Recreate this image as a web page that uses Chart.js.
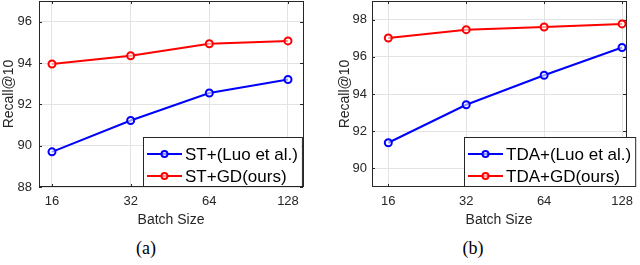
<!DOCTYPE html>
<html>
<head>
<meta charset="utf-8">
<script src="https://cdn.jsdelivr.net/npm/chart.js@4.4.0/dist/chart.umd.min.js"></script>
<style>
  html, body { margin: 0; padding: 0; background: #fff; }
  body { width: 640px; height: 265px; position: relative; overflow: hidden; }
  .box { position: absolute; top: 0; width: 320px; height: 232px; }
  .cap { position: absolute; top: 237px; font-family: "Liberation Serif", "DejaVu Serif", serif; font-size: 18px; color: #000; width: 60px; text-align: center; line-height: 22px; }
</style>
</head>
<body>
<div class="box" style="left:0"><canvas id="cA"></canvas></div>
<div class="box" style="left:320px"><canvas id="cB"></canvas></div>
<div class="cap" style="left:116px">(a)</div>
<div class="cap" style="left:443px">(b)</div>
<script>
// ---- data ----
const batchSizes = [16, 32, 64, 128];
const stLuo  = [89.7, 91.22, 92.55, 93.2];
const stGD   = [93.95, 94.35, 94.93, 95.07];
const tdaLuo = [91.38, 93.42, 95.01, 96.5];
const tdaGD  = [97.01, 97.46, 97.6, 97.77];
const yTicksA = [88, 90, 92, 94, 96];
const yTicksB = [90, 92, 94, 96, 98];
const labelsA = ['ST+(Luo et al.)', 'ST+GD(ours)'];
const labelsB = ['TDA+(Luo et al.)', 'TDA+GD(ours)'];

const BLUE = '#0000ff', RED = '#ff0000', AXC = '#262626', GRID = '#e3e3e3';

const boxPlugin = {
  id: 'matlabBox',
  beforeDatasetsDraw(chart) {
    const {ctx, chartArea: a, scales} = chart;
    ctx.save();
    ctx.strokeStyle = AXC;
    ctx.lineWidth = 1;
    ctx.beginPath();
    scales.x.ticks.forEach(t => {
      const px = Math.round(scales.x.getPixelForValue(t.value)) + 0.5;
      ctx.moveTo(px, a.bottom); ctx.lineTo(px, a.bottom - 3);
      ctx.moveTo(px, a.top); ctx.lineTo(px, a.top + 3);
    });
    scales.y.ticks.forEach(t => {
      const py = Math.round(scales.y.getPixelForValue(t.value)) + 0.5;
      ctx.moveTo(a.left, py); ctx.lineTo(a.left + 3, py);
      ctx.moveTo(a.right, py); ctx.lineTo(a.right - 3, py);
    });
    ctx.stroke();
    ctx.strokeRect(Math.round(a.left) + 0.5, Math.round(a.top) + 0.5,
                   Math.round(a.right - a.left), Math.round(a.bottom - a.top) - 1);
    ctx.restore();
  },
  afterDraw(chart) {
    const o = chart.options.plugins.boxLegend;
    if (!o) return;
    const {ctx, chartArea: a} = chart;
    ctx.save();
    ctx.font = '17px "Liberation Sans", Arial, sans-serif';
    const ds = chart.data.datasets;
    let tw = 0;
    ds.forEach(d => { tw = Math.max(tw, ctx.measureText(d.label).width); });
    const left = o.left, top = o.top, bottom = Math.round(a.bottom);
    const w = 4 + 35 + 3 + tw + 4;
    ctx.fillStyle = '#fff';
    ctx.fillRect(left, top, w, bottom - top);
    ctx.strokeStyle = AXC; ctx.lineWidth = 1;
    ctx.strokeRect(left + 0.5, top + 0.5, w, bottom - top - 1);
    ds.forEach((d, i) => {
      const yy = top + 17 + i * 22;
      ctx.strokeStyle = d.borderColor; ctx.lineWidth = 2;
      ctx.beginPath(); ctx.moveTo(left + 4, yy); ctx.lineTo(left + 39, yy); ctx.stroke();
      ctx.beginPath(); ctx.arc(left + 21.5, yy, 3, 0, Math.PI * 2);
      ctx.fillStyle = 'rgba(255,255,255,0.6)'; ctx.fill(); ctx.stroke();
      ctx.fillStyle = '#000'; ctx.textBaseline = 'middle'; ctx.textAlign = 'left';
      ctx.fillText(d.label, left + 42, yy + 1);
    });
    ctx.restore();
  }
};

function makeChart(id, series, labels, cfg) {
  const font = {family: '"Liberation Sans", Arial, sans-serif', size: 13};
  const tfont = {family: '"Liberation Sans", Arial, sans-serif', size: 14, lineHeight: 1};
  const colors = [BLUE, RED];
  return new Chart(document.getElementById(id), {
    type: 'line',
    data: {
      datasets: series.map((s, i) => ({
        label: labels[i],
        data: batchSizes.map((b, j) => ({x: b, y: s[j]})),
        borderColor: colors[i],
        backgroundColor: colors[i],
        borderWidth: 2,
        pointRadius: 3.5,
        pointBorderWidth: 2,
        pointBackgroundColor: 'rgba(255,255,255,0.6)',
        pointBorderColor: colors[i],
        tension: 0,
        clip: false
      }))
    },
    options: {
      responsive: true,
      maintainAspectRatio: false,
      animation: false,
      layout: {autoPadding: false, padding: {top: 1, right: cfg.padRight, left: 0, bottom: 0}},
      plugins: {legend: {display: false}, tooltip: {enabled: false},
                boxLegend: {left: cfg.legLeft, top: 137}},
      scales: {
        x: {
          type: 'logarithmic',
          min: cfg.xMin, max: cfg.xMax,
          afterBuildTicks: s => { s.ticks = batchSizes.map(v => ({value: v})); },
          afterFit: s => { s.height = 45; s.paddingLeft = 0; s.paddingRight = 0; },
          grid: {color: GRID, drawTicks: false},
          border: {display: false},
          ticks: {font, color: AXC, padding: 7, autoSkip: false, maxRotation: 0,
                  callback: v => String(v)},
          title: {display: true, text: 'Batch Size', font: tfont, color: AXC,
                  padding: {top: 0, bottom: 5}}
        },
        y: {
          min: cfg.yMin, max: cfg.yMax,
          afterBuildTicks: s => { s.ticks = cfg.yTicks.map(v => ({value: v})); },
          afterFit: s => { s.width = cfg.yWidth; s.paddingTop = 0; s.paddingBottom = 0; },
          grid: {color: GRID, drawTicks: false},
          border: {display: false},
          ticks: {font, color: AXC, padding: cfg.yPad, callback: v => String(v)},
          title: {display: true, text: 'Recall@10', font: tfont, color: AXC,
                  padding: {top: cfg.yTitlePad, bottom: 0}}
        }
      }
    },
    plugins: [boxPlugin]
  });
}

makeChart('cA', [stLuo, stGD], labelsA,
  {xMin: 14.27, xMax: 146.1, yMin: 88, yMax: 97, yTicks: yTicksA,
   yWidth: 39, padRight: 17, yPad: 7, yTitlePad: 2, legLeft: 143});
makeChart('cB', [tdaLuo, tdaGD], labelsB,
  {xMin: 13.84, xMax: 132.6, yMin: 89, yMax: 99, yTicks: yTicksB,
   yWidth: 52, padRight: 14, yPad: 5, yTitlePad: 18, legLeft: 144});
</script>
</body>
</html>
